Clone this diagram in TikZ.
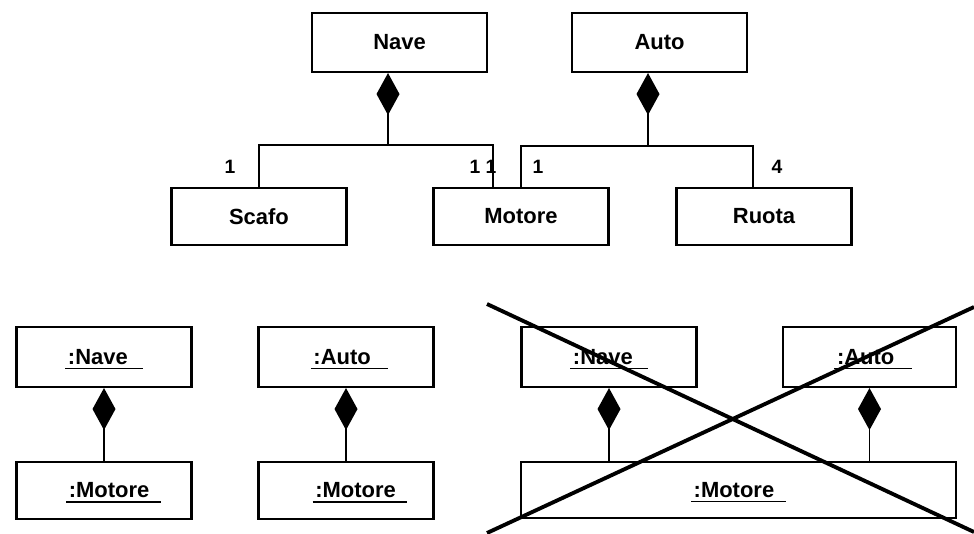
\documentclass[tikz,border=0pt]{standalone}
\usepackage{fontspec}
\setmainfont{Liberation Sans}
\usetikzlibrary{arrows.meta,calc}

\newcommand{\objname}[2]{\rlap{\smash{\rule[-2.8pt]{#2}{0.9pt}}}\makebox[#2][l]{\hspace{1.5pt}#1}}

\begin{document}
\begin{tikzpicture}[
    x=0.02cm,
    y=-0.02cm,
    font=\fontsize{12.5}{15}\selectfont\bfseries,
    class/.style={
        draw,
        line width=1.2pt,
        minimum width=3.5cm,
        minimum height=1.14cm,
        inner sep=0pt
    },
    mult/.style={
        font=\fontsize{11}{13}\selectfont\bfseries,
        inner sep=0pt
    },
    link/.style={
        line width=1.1pt
    },
    comp/.style={
        link,
        -{Diamond[length=0.84cm,width=0.46cm]}
    },
    cross/.style={
        line width=2.2pt
    }
    ]
    \useasboundingbox (0,0) rectangle (974,534);

    % classes
    \node[class,minimum height=1.18cm] (NAVE) at (399.5,42.5) {Nave};
    \node[class,minimum height=1.18cm] (AUTO) at (659.5,42.5) {Auto};
    \node[class] (SCAFO)  at (259,216.5) {Scafo};
    \node[class] (MOTORE) at (521,216.5) {Motore};
    \node[class] (RUOTA)  at (764,216.5) {Ruota};

    \node[mult] (MSCAFO)   at (230,167) {1};
    \node[mult] (MMOTORE1) at (475,167) {1};
    \node[mult] (MMOTORE2) at (491,167) {1};
    \node[mult] (MMOTORE3) at (538,167) {1};
    \node[mult] (MRUOTA)   at (777,167) {4};

    \coordinate (JNAVE) at (388,145);
    \coordinate (JAUTO) at (648,146);

    \draw[link] (SCAFO.north) |- (JNAVE) -| ($(MOTORE.north)+(-28,0)$);
    \draw[comp] (JNAVE) -- (JNAVE |- NAVE.south);
    \draw[link] (MOTORE.north) |- (JAUTO) -| ($(RUOTA.north)+(-11,0)$);
    \draw[comp] (JAUTO) -- (JAUTO |- AUTO.south);

    % objects
    \node[class,minimum height=1.2cm] (ONAVE) at (104,357) {\objname{:Nave}{44pt}};
    \node[class,minimum height=1.2cm] (OAUTO) at (346,357) {\hspace*{4pt}\objname{:Auto}{44pt}};
    \node[class] (OMOTORE1) at (104,490.5) {\hspace*{11pt}\objname{:Motore}{54pt}};
    \node[class] (OMOTORE2) at (346,490.5) {\hspace*{16pt}\objname{:Motore}{54pt}};

    \draw[comp] (OMOTORE1.north) -- (ONAVE.south);
    \draw[comp] (OMOTORE2.north) -- (OAUTO.south);

    % shared engine: not allowed
    \node[class,minimum height=1.2cm] (XNAVE) at (609,357) {\objname{:Nave}{44pt}};
    \node[class,minimum height=1.2cm,minimum width=3.46cm] (XAUTO) at (869.5,357) {\hspace*{4pt}\objname{:Auto}{44pt}};
    \node[class,minimum width=8.7cm,minimum height=1.12cm] (XMOTORE) at (738.5,490) {\objname{:Motore}{54pt}};

    \draw[comp] (XMOTORE.north -| XNAVE.south) -- (XNAVE.south);
    \draw[comp] (XMOTORE.north -| XAUTO.south) -- (XAUTO.south);

    \draw[cross] (487,304) -- (974,532);
    \draw[cross] (487,533) -- (974,307);
\end{tikzpicture}
\end{document}
